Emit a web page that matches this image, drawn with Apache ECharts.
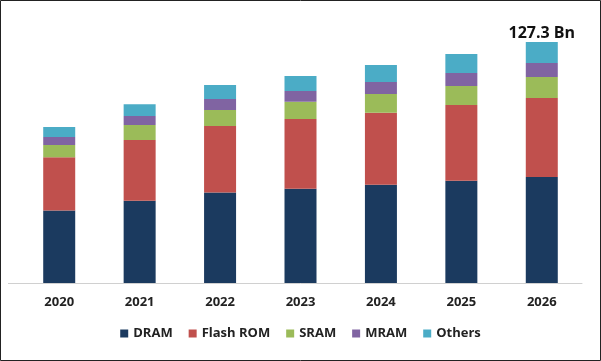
<!DOCTYPE html>
<html>
<head>
<meta charset="utf-8">
<script src="https://cdn.jsdelivr.net/npm/echarts@6/dist/echarts.min.js"></script>
<style>
html,body{margin:0;padding:0;background:#fff;}
#c{width:601px;height:361px;}
</style>
</head>
<body>
<div id="c"></div>
<script>
const categories = ['2020','2021','2022','2023','2024','2025','2026'];
const dram     = [38.3, 43.4, 47.8, 49.8, 51.9, 54.0, 56.0];
const flashRom = [28.1, 32.2, 35.2, 36.9, 38.0, 40.1, 41.7];
const sram     = [6.5, 7.9, 8.4, 9.0, 10.0, 10.0, 11.1];
const mram     = [4.2, 4.7, 5.8, 5.8, 6.3, 6.9, 7.4];
const others   = [5.3, 6.3, 7.4, 7.9, 9.0, 10.0, 11.1];
const seriesNames = ['DRAM','Flash ROM','SRAM','MRAM','Others'];
const totalLabel = '127.3 Bn';

const colors = ['#1b3a5f','#c0504d','#9bbb59','#8064a2','#4bacc6'];
const data = [dram, flashRom, sram, mram, others];

const chart = echarts.init(document.getElementById('c'), null, {renderer:'canvas'});
const series = seriesNames.map((name, i) => {
  const s = {
    name, type:'bar', stack:'total', barWidth:32,
    itemStyle:{color:colors[i]},
    data: data[i].slice()
  };
  if (i === seriesNames.length - 1) {
    s.data = data[i].map((v, j) => j === categories.length - 1 ? {
      value: v,
      label: {show:true, position:'top', distance:1, formatter: totalLabel,
              fontFamily:'Open Sans', fontWeight:'bold', fontSize:16, color:'#111'}
    } : v);
  }
  return s;
});

chart.setOption({
  animation:false,
  backgroundColor:'#fff',
  color: colors,
  grid:{left:19, right:19, top:18, bottom:78, containLabel:false},
  legend:{
    top:327, left:'center', padding:0,
    itemWidth:8, itemHeight:8, itemGap:16, icon:'rect',
    textStyle:{fontFamily:'Open Sans', fontWeight:'bold', fontSize:13, color:'#222'},
    data: seriesNames
  },
  xAxis:{
    type:'category', data:categories,
    axisLine:{lineStyle:{color:'#d0d0d0', width:1}},
    axisTick:{show:false},
    axisLabel:{margin:13, fontFamily:'Open Sans', fontWeight:'bold', fontSize:13, color:'#222'}
  },
  yAxis:{type:'value', min:0, max:140, show:false, splitLine:{show:false}},
  graphic:[
    {type:'rect', shape:{x:0.5, y:0.5, width:600, height:360}, style:{fill:'none', stroke:'#222', lineWidth:1}, silent:true},
    {type:'line', shape:{x1:8, y1:283.5, x2:19, y2:283.5}, style:{stroke:'#d0d0d0', lineWidth:1}, silent:true}
  ],
  series
});
</script>
</body>
</html>
